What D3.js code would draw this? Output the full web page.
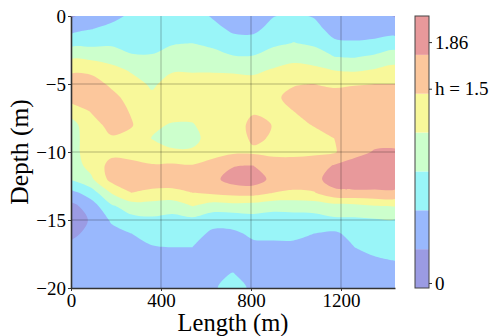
<!DOCTYPE html>
<html>
<head>
<meta charset="utf-8">
<script src="https://cdn.jsdelivr.net/npm/d3@7"></script>
<style>
body { margin: 0; background: #fff; }
text { font-family: "Liberation Serif", "Times New Roman", serif; fill: #000; }
</style>
</head>
<body>
<script>
// grid positions (m)
var lengths = [0, 90, 180, 270, 360, 450, 540, 630, 720, 810, 900, 990, 1080, 1170, 1260, 1350, 1440];
var depths = [0, -1, -2, -3, -4, -5, -6, -7, -8, -9, -10, -11, -12, -13, -14, -15, -16, -17, -18, -19, -20];

// h values, one list per length column, top (0 m) to bottom (-20 m)
var hByColumn = [
    [0.25,0.5,0.8,1.15,1.46,1.62,1.64,1.3,1.1,1.1,1.1,1.05,0.93,0.5,0.2,0.15,0.25,0.35,0.4,0.42,0.42],
    [0.45,0.6,0.82,1.12,1.44,1.62,1.62,1.52,1.38,1.33,1.33,1.3,1.15,0.75,0.45,0.33,0.36,0.4,0.42,0.42,0.42],
    [0.52,0.68,0.85,1.07,1.3,1.45,1.58,1.65,1.6,1.47,1.42,1.6,1.6,1.22,0.85,0.64,0.5,0.42,0.4,0.4,0.4],
    [0.65,0.73,0.8,0.93,1.17,1.3,1.4,1.47,1.52,1.42,1.43,1.55,1.62,1.5,1.05,0.8,0.6,0.47,0.42,0.4,0.4],
    [0.7,0.75,0.82,0.92,1.05,1.16,1.25,1.33,1.25,1.19,1.35,1.52,1.62,1.45,1.05,0.85,0.72,0.58,0.48,0.43,0.42],
    [0.7,0.78,0.88,1.02,1.18,1.3,1.35,1.3,1.18,1.1,1.24,1.55,1.6,1.45,1.0,0.82,0.7,0.6,0.5,0.45,0.43],
    [0.72,0.8,0.9,1.03,1.18,1.3,1.35,1.3,1.18,1.12,1.24,1.52,1.62,1.5,1.2,0.82,0.7,0.6,0.52,0.48,0.45],
    [0.57,0.7,0.84,1.0,1.18,1.3,1.35,1.37,1.35,1.32,1.4,1.6,1.72,1.55,1.05,0.7,0.55,0.48,0.5,0.56,0.58],
    [0.42,0.55,0.72,0.92,1.17,1.3,1.35,1.38,1.36,1.35,1.45,1.78,1.93,1.6,1.08,0.7,0.56,0.5,0.54,0.61,0.66],
    [0.42,0.54,0.72,0.92,1.15,1.3,1.38,1.47,1.58,1.55,1.45,1.8,1.95,1.62,1.05,0.78,0.64,0.55,0.5,0.52,0.57],
    [0.59,0.7,0.84,1.05,1.23,1.35,1.45,1.47,1.49,1.47,1.42,1.65,1.72,1.5,0.98,0.78,0.65,0.55,0.5,0.48,0.47],
    [0.65,0.77,0.91,1.1,1.32,1.48,1.58,1.5,1.4,1.35,1.43,1.62,1.68,1.45,1.0,0.78,0.65,0.55,0.5,0.47,0.46],
    [0.58,0.7,0.85,1.05,1.28,1.5,1.62,1.6,1.52,1.38,1.45,1.65,1.7,1.48,1.02,0.78,0.6,0.5,0.45,0.44,0.44],
    [0.42,0.5,0.65,0.9,1.2,1.45,1.62,1.65,1.6,1.5,1.47,1.82,1.95,1.72,1.08,0.85,0.55,0.45,0.42,0.4,0.4],
    [0.4,0.48,0.63,0.88,1.17,1.48,1.63,1.67,1.65,1.6,1.72,1.9,1.97,1.75,1.1,0.85,0.7,0.6,0.5,0.45,0.43],
    [0.4,0.48,0.66,0.95,1.23,1.5,1.65,1.7,1.7,1.72,1.82,1.93,1.95,1.75,1.17,0.87,0.76,0.66,0.57,0.5,0.45],
    [0.28,0.47,0.75,1.05,1.3,1.5,1.65,1.7,1.72,1.74,1.82,1.93,1.95,1.75,1.2,0.88,0.78,0.68,0.6,0.52,0.47]
];

var levels = [0, 0.3, 0.6, 0.9, 1.2, 1.5, 1.8, 2.1];
var bandColors = ["#9b9be3", "#99b8fd", "#99f5f8", "#ccffcc", "#f8f89a", "#fcc79c", "#e8999b"];

var xTicks = [0, 400, 800, 1200];
var yTicks = [0, -5, -10, -15, -20];
var cbTicks = [0, 1.5, 1.86];
var cbLabels = ["0", "h = 1.5", "1.86"];

var W = 493, H = 336,
    plot = {left: 71, right: 395, top: 16, bottom: 288},
    cbar = {left: 415, width: 14},
    serif = "'Liberation Serif', 'Times New Roman', serif";

var svg = d3.select("body").append("svg")
    .attr("width", W)
    .attr("height", H);

var x = d3.scaleLinear().domain([0, 1440]).range([plot.left, plot.right]);
var y = d3.scaleLinear().domain([-20, 0]).range([plot.bottom, plot.top]);

// contour grid -> data coords (sample i sits at grid coord i + 0.5)
var nx = lengths.length, ny = depths.length;
var gx = d3.scaleLinear().domain([0.5, nx - 0.5]).range([x(lengths[0]), x(lengths[nx - 1])]);
var gy = d3.scaleLinear().domain([0.5, ny - 0.5]).range([y(depths[0]), y(depths[ny - 1])]);

var values = new Array(nx * ny);
for (var j = 0; j < ny; j++) {
    for (var i = 0; i < nx; i++) {
        values[j * nx + i] = hByColumn[i][j];
    }
}

var contours = d3.contours()
    .size([nx, ny])
    .thresholds(levels.slice(0, -1))(values);

svg.append("defs").append("clipPath")
    .attr("id", "clip")
    .append("rect")
    .attr("x", plot.left)
    .attr("y", plot.top)
    .attr("width", plot.right - plot.left)
    .attr("height", plot.bottom - plot.top);

var ringLine = d3.line()
    .x(function(p) { return gx(p[0]); })
    .y(function(p) { return gy(p[1]); })
    .curve(d3.curveCatmullRomClosed.alpha(0.5));

function contourPath(c) {
    var d = "";
    c.coordinates.forEach(function(poly) {
        poly.forEach(function(ring) {
            d += ringLine(ring.slice(0, -1));
        });
    });
    return d;
}

svg.append("g")
    .attr("clip-path", "url(#clip)")
    .selectAll("path")
    .data(contours)
    .enter()
    .append("path")
        .attr("d", contourPath)
        .attr("fill", function(d, i) { return bandColors[i]; })
        .attr("fill-rule", "evenodd");

// grid
var grid = svg.append("g")
    .attr("stroke", "#000")
    .attr("stroke-opacity", 0.28)
    .attr("stroke-width", 1);
grid.selectAll(".gx")
    .data(xTicks.slice(1))
    .enter().append("line")
        .attr("x1", function(d) { return x(d); })
        .attr("x2", function(d) { return x(d); })
        .attr("y1", plot.top)
        .attr("y2", plot.bottom);
grid.selectAll(".gy")
    .data(yTicks.slice(1, -1))
    .enter().append("line")
        .attr("x1", plot.left)
        .attr("x2", plot.right)
        .attr("y1", function(d) { return y(d); })
        .attr("y2", function(d) { return y(d); });

// axes
var xAxis = svg.append("g")
    .attr("transform", "translate(0," + plot.bottom + ")")
    .call(d3.axisBottom(x).tickValues(xTicks).tickFormat(d3.format("d"))
        .tickSize(3).tickSizeOuter(0).tickPadding(3));
var yAxis = svg.append("g")
    .attr("transform", "translate(" + plot.left + ",0)")
    .call(d3.axisLeft(y).tickValues(yTicks).tickFormat(d3.format("d"))
        .tickSize(3).tickSizeOuter(0).tickPadding(2));

[xAxis, yAxis].forEach(function(a) {
    a.attr("font-family", serif).attr("font-size", 19);
    a.select(".domain").attr("stroke", "#333").attr("stroke-width", 1.6);
    a.selectAll(".tick line").attr("stroke", "#333");
    a.selectAll("text").attr("fill", "#000");
});

svg.append("text")
    .attr("x", (plot.left + plot.right) / 2)
    .attr("y", 331)
    .attr("text-anchor", "middle")
    .attr("font-family", serif)
    .attr("font-size", 24.5)
    .text("Length (m)");

svg.append("text")
    .attr("transform", "translate(28," + (plot.top + plot.bottom) / 2 + ") rotate(-90)")
    .attr("text-anchor", "middle")
    .attr("font-family", serif)
    .attr("font-size", 25.5)
    .text("Depth (m)");

// colorbar
var cb = d3.scaleLinear().domain([levels[0], levels[levels.length - 1]]).range([plot.bottom, plot.top]);
svg.append("g").selectAll("rect")
    .data(bandColors)
    .enter().append("rect")
        .attr("x", cbar.left)
        .attr("width", cbar.width)
        .attr("y", function(d, i) { return cb(levels[i + 1]); })
        .attr("height", function(d, i) { return cb(levels[i]) - cb(levels[i + 1]); })
        .attr("fill", function(d) { return d; });
svg.append("rect")
    .attr("x", cbar.left)
    .attr("y", plot.top)
    .attr("width", cbar.width)
    .attr("height", plot.bottom - plot.top)
    .attr("fill", "none")
    .attr("stroke", "#444")
    .attr("stroke-width", 1);

var cbAxis = svg.append("g")
    .attr("transform", "translate(" + (cbar.left + cbar.width) + ",-5)")
    .call(d3.axisRight(cb).tickValues(cbTicks).tickSize(3).tickPadding(3)
        .tickFormat(function(d, i) { return cbLabels[i]; }));
cbAxis.attr("font-family", serif).attr("font-size", 19);
cbAxis.select(".domain").remove();
cbAxis.selectAll(".tick line").attr("stroke", "#333");
cbAxis.selectAll("text").attr("fill", "#000");
</script>
</body>
</html>
